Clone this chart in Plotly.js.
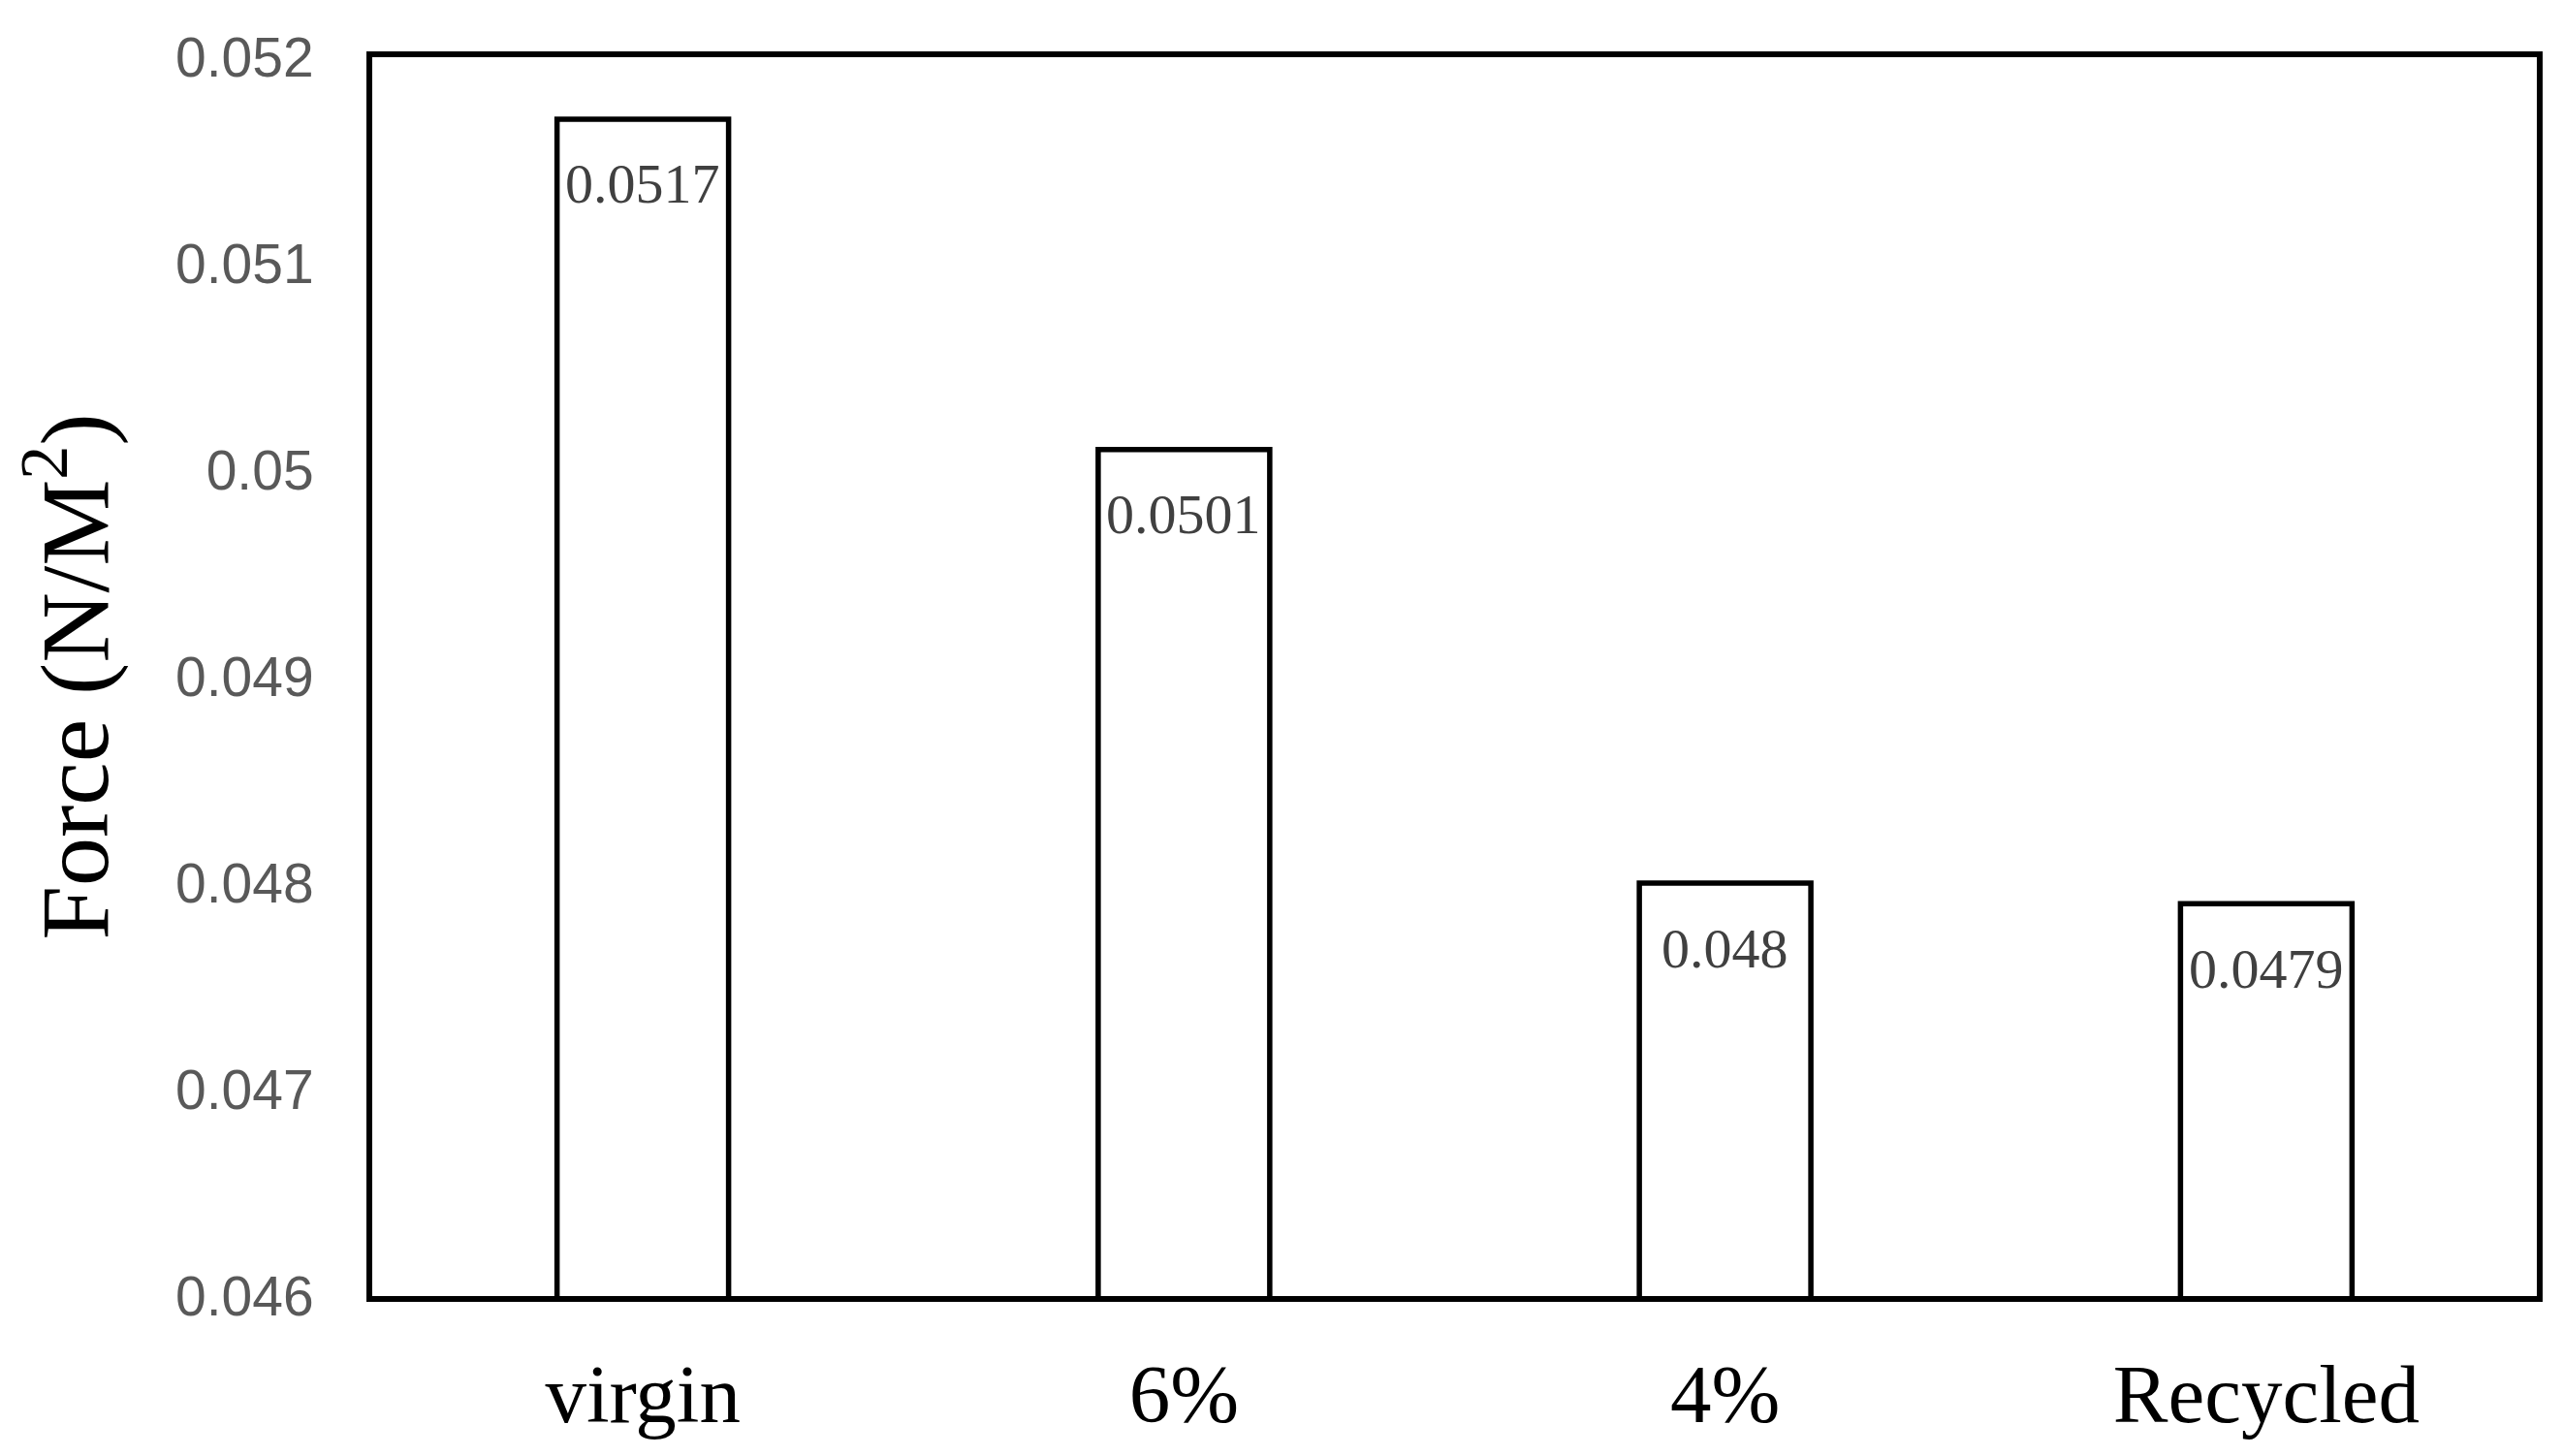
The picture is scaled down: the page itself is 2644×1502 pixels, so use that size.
<!DOCTYPE html>
<html>
<head>
<meta charset="utf-8">
<script src="https://cdn.plot.ly/plotly-3.0.1.min.js"></script>
<style>html,body{margin:0;padding:0;background:#fff;}#chart{width:2644px;height:1502px;}</style>
</head>
<body>
<div id="chart"></div>
<script>
var categories = ["virgin", "6%", "4%", "Recycled"];
var forceValues = [0.0517, 0.0501, 0.048, 0.0479];
var valueLabels = ["0.0517", "0.0501", "0.048", "0.0479"];
var yTickVals = [0.046, 0.047, 0.048, 0.049, 0.05, 0.051, 0.052];
var yTickText = ["0.046", "0.047", "0.048", "0.049", "0.05", "0.051", "0.052"];

var trace = {
  type: "bar",
  x: categories,
  y: forceValues,
  marker: {color: "#ffffff", line: {color: "#000000", width: 5.5}},
  hoverinfo: "x+y"
};

var annotations = categories.map(function (c, i) {
  return {
    x: c, y: forceValues[i], xref: "x", yref: "y",
    text: valueLabels[i], showarrow: false,
    yanchor: "middle", yshift: -67,
    font: {family: "Liberation Serif, Times New Roman, serif", size: 58, color: "#404040"}
  };
});

var layout = {
  width: 2644, height: 1502,
  margin: {l: 384, r: 27, t: 59, b: 165},
  paper_bgcolor: "#ffffff", plot_bgcolor: "#ffffff",
  showlegend: false,
  bargap: 0.683,
  xaxis: {
    type: "category",
    showline: true, mirror: true, linecolor: "#000000", linewidth: 6,
    showgrid: false, zeroline: false, ticks: "",
    ticklabelstandoff: 22,
    tickfont: {family: "Liberation Serif, Times New Roman, serif", size: 85, color: "#000000"}
  },
  yaxis: {
    range: [0.046, 0.052],
    tickvals: yTickVals, ticktext: yTickText,
    showline: true, mirror: true, linecolor: "#000000", linewidth: 6,
    showgrid: false, zeroline: false, ticks: "",
    ticklabelstandoff: 43,
    tickfont: {family: "Liberation Sans, Arial, sans-serif", size: 57, color: "#595959"},
    title: {
      text: "Force (N/M<sup>2</sup>)",
      standoff: 38,
      font: {family: "Liberation Serif, Times New Roman, serif", size: 100, color: "#000000"}
    }
  },
  annotations: annotations
};

Plotly.newPlot("chart", [trace], layout, {displayModeBar: false, staticPlot: true});
</script>
</body>
</html>
